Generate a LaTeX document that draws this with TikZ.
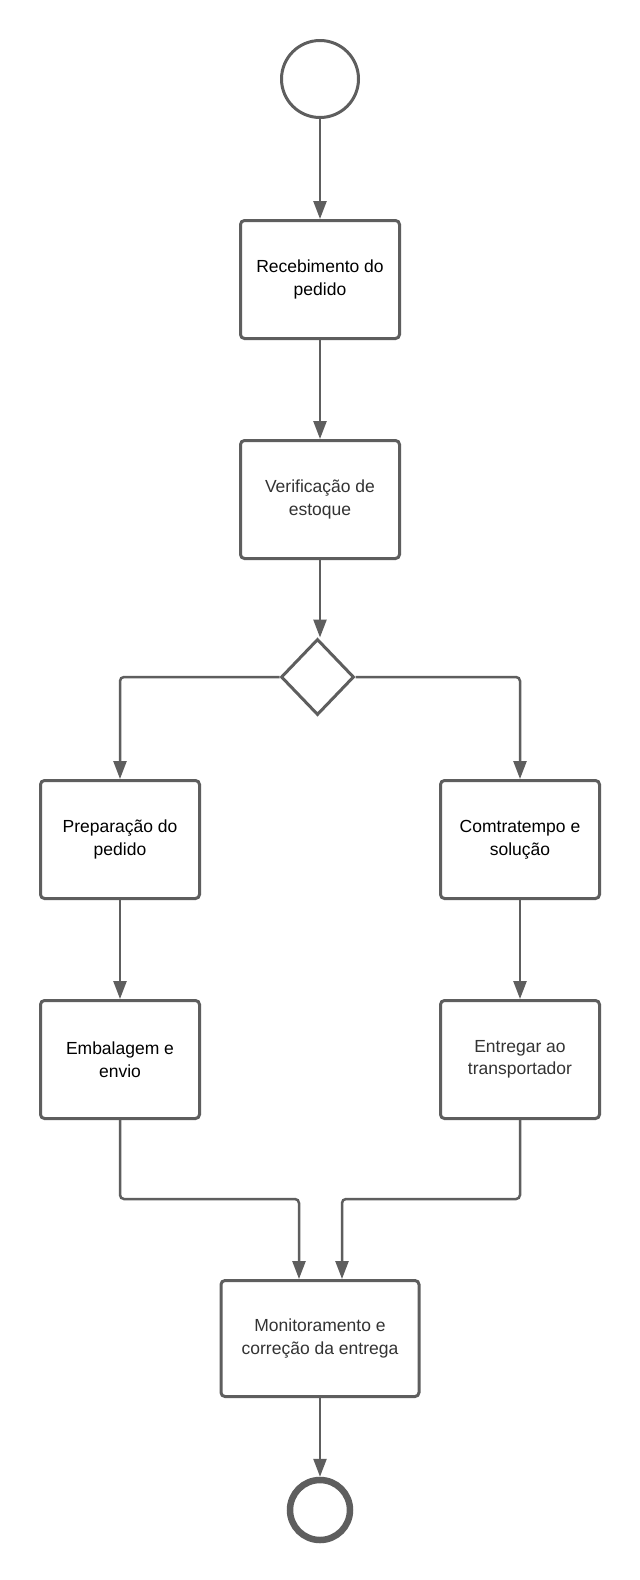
\documentclass[tikz,border=0pt]{standalone}
\usepackage{fontspec}
\setmainfont{Liberation Sans}
\usetikzlibrary{shapes.geometric,arrows.meta}
\definecolor{edge}{HTML}{5E5E5E}
\definecolor{txtgrey}{HTML}{333333}
\begin{document}
\begin{tikzpicture}[x=1pt,y=-1pt,
  box/.style={draw=edge,line width=3pt,rounded corners=4pt,minimum width=159pt,minimum height=118pt,
    align=center,font=\fontsize{17.5}{22.5}\selectfont,inner sep=0pt},
  monbox/.style={box,minimum width=198pt,minimum height=116pt},
  decision/.style={diamond,draw=edge,line width=3pt,minimum width=73pt,minimum height=76pt,inner sep=0pt},
  startev/.style={circle,draw=edge,line width=3pt,minimum size=77pt,inner sep=0pt},
  endev/.style={circle,draw=edge,line width=6.5pt,minimum size=60pt,inner sep=0pt},
  conn/.style={draw=edge,line width=2.5pt,rounded corners=4pt,-{Triangle[length=18pt,width=13pt]}}
]
\useasboundingbox[fill=white] (0,0) rectangle (640,1580);
\node[startev] (start) at (320,79) {};
\node[box] (rec) at (320,279.5) {Recebimento do\\pedido};
\node[box,text=txtgrey] (ver) at (320,499.5) {Verificação de\\estoque};
\node[decision] (dia) at (317.5,677) {};
\node[box] (prep) at (120,839.5) {Preparação do\\pedido};
\node[box] (com) at (520,839.5) {Comtratempo e\\solução};
\node[box] (emb) at (120,1059.5) {Embalagem e\\envio};
\node[box,text=txtgrey] (ent) at (520,1059.5) {Entregar ao\\transportador};
\node[monbox,text=txtgrey] (mon) at (320,1338.5) {Monitoramento e\\correção da entrega};
\node[endev] (fim) at (320,1510) {};

\draw[conn] (start) -- (rec);
\draw[conn] (rec) -- (ver);
\draw[conn] (ver.south) -- (ver.south |- dia.north);
\draw[conn] (dia.west) -| (prep.north);
\draw[conn] (dia.east) -| (com.north);
\draw[conn] (prep) -- (emb);
\draw[conn] (com) -- (ent);
\draw[conn] (emb.south) -- ++(0,79) -| ([xshift=-21pt]mon.north);
\draw[conn] (ent.south) -- ++(0,79) -| ([xshift=22pt]mon.north);
\draw[conn] (mon) -- (fim);
\end{tikzpicture}
\end{document}
